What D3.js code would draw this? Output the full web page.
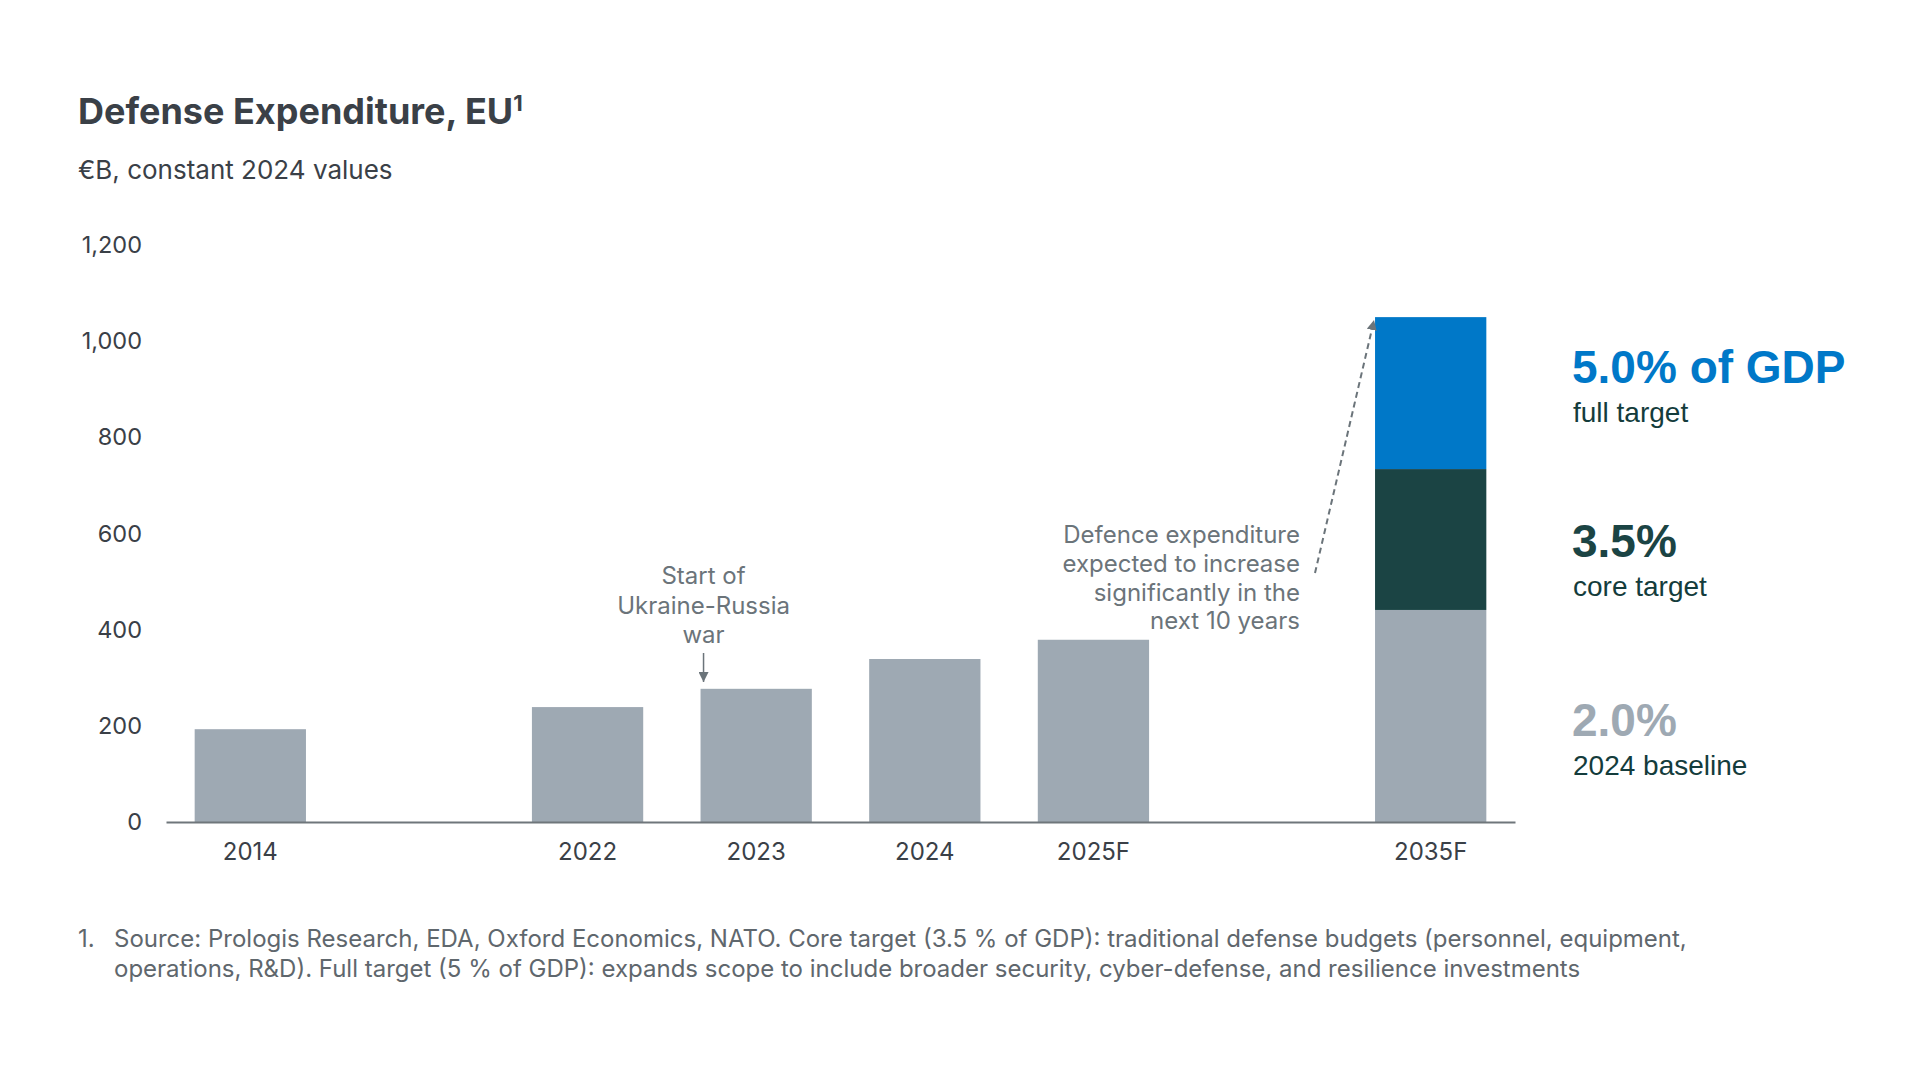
<!DOCTYPE html>
<html>
<head>
<meta charset="utf-8">
<script src="https://cdn.jsdelivr.net/npm/d3@7"></script>
<style>
  body { margin: 0; background: #fff; }
  svg { font-family: Inter, "Noto Sans", sans-serif; }
</style>
</head>
<body>
<svg id="chart" width="1920" height="1080"></svg>
<script>
// data
const slots = ["2014", "gap1", "2022", "2023", "2024", "2025F", "gap2", "2035F"];
const years = ["2014", "2022", "2023", "2024", "2025F", "2035F"];
const baseline = [193, 239, 277, 339, 379, 441];
const coreTarget = [0, 0, 0, 0, 0, 293];
const fullTarget = [0, 0, 0, 0, 0, 316];
const yTicks = [0, 200, 400, 600, 800, 1000, 1200];

const warNote = ["Start of", "Ukraine-Russia", "war"];
const growthNote = ["Defence expenditure", "expected to increase", "significantly in the", "next 10 years"];
const footLines = [
  "Source: Prologis Research, EDA, Oxford Economics, NATO. Core target (3.5 % of GDP): traditional defense budgets (personnel, equipment,",
  "operations, R&D). Full target (5 % of GDP): expands scope to include broader security, cyber-defense, and resilience investments"
];
const sideLabels = [
  {big: "5.0% of GDP", small: "full target", color: "#0078c8"},
  {big: "3.5%", small: "core target", color: "#1b4444"},
  {big: "2.0%", small: "2024 baseline", color: "#9ea9b3"}
];

const svg = d3.select("svg#chart");
const grey = "#9ea9b3";

// scales
const x = d3.scaleBand().domain(slots).range([166, 1515]).paddingInner(0.34).paddingOuter(0.17);
const y = d3.scaleLinear().domain([0, 1200]).range([822, 245]);

// title
const title = svg.append("text")
   .attr("x", 78).attr("y", 124)
   .attr("font-size", 36).attr("font-weight", 700).attr("fill", "#3a4047")
   .text("Defense Expenditure, EU");
title.append("tspan").attr("font-size", 22).attr("dy", -13).text("1");

svg.append("text")
   .attr("x", 78).attr("y", 179)
   .attr("font-size", 26).attr("fill", "#3a4047")
   .text("€B, constant 2024 values");

// y axis labels only
let leftAxis = d3.axisLeft(y).tickValues(yTicks).tickFormat(d3.format(",")).tickSize(0).tickPadding(0);
let yg = svg.append("g").attr("transform", "translate(142,0)").call(leftAxis);
yg.select(".domain").remove();
yg.selectAll("text").attr("font-size", 23.5).attr("fill", "#3a4047").attr("font-family", "Inter");

// stacked bars
const rows = years.map((yr, i) => ({year: yr, base: baseline[i], core: coreTarget[i], full: fullTarget[i]}));
const stack = d3.stack().keys(["base", "core", "full"])(rows);
const fills = {base: grey, core: "#1b4444", full: "#0078c8"};

svg.append("g").selectAll("g").data(stack)
   .join("g")
   .attr("fill", d => fills[d.key])
   .selectAll("rect").data(d => d.filter(p => p[1] > p[0]))
   .join("rect")
   .attr("x", d => x(d.data.year))
   .attr("width", x.bandwidth())
   .attr("y", d => y(d[1]))
   .attr("height", d => y(d[0]) - y(d[1]));

// x axis
let bottomAxis = d3.axisBottom(x).tickValues(years).tickSize(0).tickPadding(21);
let xg = svg.append("g").attr("transform", "translate(0," + y(0) + ")").call(bottomAxis);
xg.select(".domain").attr("stroke", "#6f767b").attr("stroke-width", 2);
xg.selectAll("text").attr("font-size", 24).attr("fill", "#3a4047").attr("font-family", "Inter");

// arrow heads
const defs = svg.append("defs");
defs.append("marker").attr("id", "head")
    .attr("viewBox", "0 0 10 10").attr("refX", 10).attr("refY", 5)
    .attr("markerWidth", 10).attr("markerHeight", 10).attr("markerUnits", "userSpaceOnUse")
    .attr("orient", "auto")
    .append("path").attr("d", "M0,0 L10,5 L0,10 Z").attr("fill", "#6b747a");

// war annotation
const warX = x("2023") + 3;
svg.append("text")
   .attr("text-anchor", "middle").attr("font-size", 24).attr("fill", "#6b747a")
   .selectAll("tspan").data(warNote).join("tspan")
   .attr("x", warX).attr("y", (d, i) => 584 + i * 29.5)
   .text(d => d);
svg.append("line")
   .attr("x1", warX).attr("x2", warX).attr("y1", 653).attr("y2", 682)
   .attr("stroke", "#6b747a").attr("stroke-width", 1.5).attr("marker-end", "url(#head)");

// growth annotation
svg.append("text")
   .attr("text-anchor", "end").attr("font-size", 24).attr("fill", "#6b747a")
   .selectAll("tspan").data(growthNote).join("tspan")
   .attr("x", 1300).attr("y", (d, i) => 543 + i * 28.8)
   .text(d => d);
svg.append("line")
   .attr("x1", 1315).attr("y1", 573)
   .attr("x2", x("2035F") - 1).attr("y2", y(1050) + 3)
   .attr("stroke", "#6b747a").attr("stroke-width", 2).attr("stroke-dasharray", "6,4")
   .attr("marker-end", "url(#head)");

// side labels
const sideY = [383, 557, 736];
const side = svg.append("g").attr("font-family", "'Liberation Sans', Arial, sans-serif")
   .selectAll("g").data(sideLabels).join("g");
side.append("text")
    .attr("x", 1572).attr("y", (d, i) => sideY[i])
    .attr("font-size", 46).attr("font-weight", 700).attr("fill", d => d.color)
    .text(d => d.big);
side.append("text")
    .attr("x", 1573).attr("y", (d, i) => sideY[i] + 39)
    .attr("font-size", 28).attr("fill", "#143c3c")
    .text(d => d.small);

// footnote
svg.append("text").attr("x", 78).attr("y", 947)
   .attr("font-size", 24).attr("fill", "#5f676d").text("1.");
svg.append("text")
   .attr("font-size", 24).attr("fill", "#5f676d")
   .selectAll("tspan").data(footLines).join("tspan")
   .attr("x", 114).attr("y", (d, i) => 947 + i * 29.5)
   .text(d => d);
</script>
</body>
</html>
